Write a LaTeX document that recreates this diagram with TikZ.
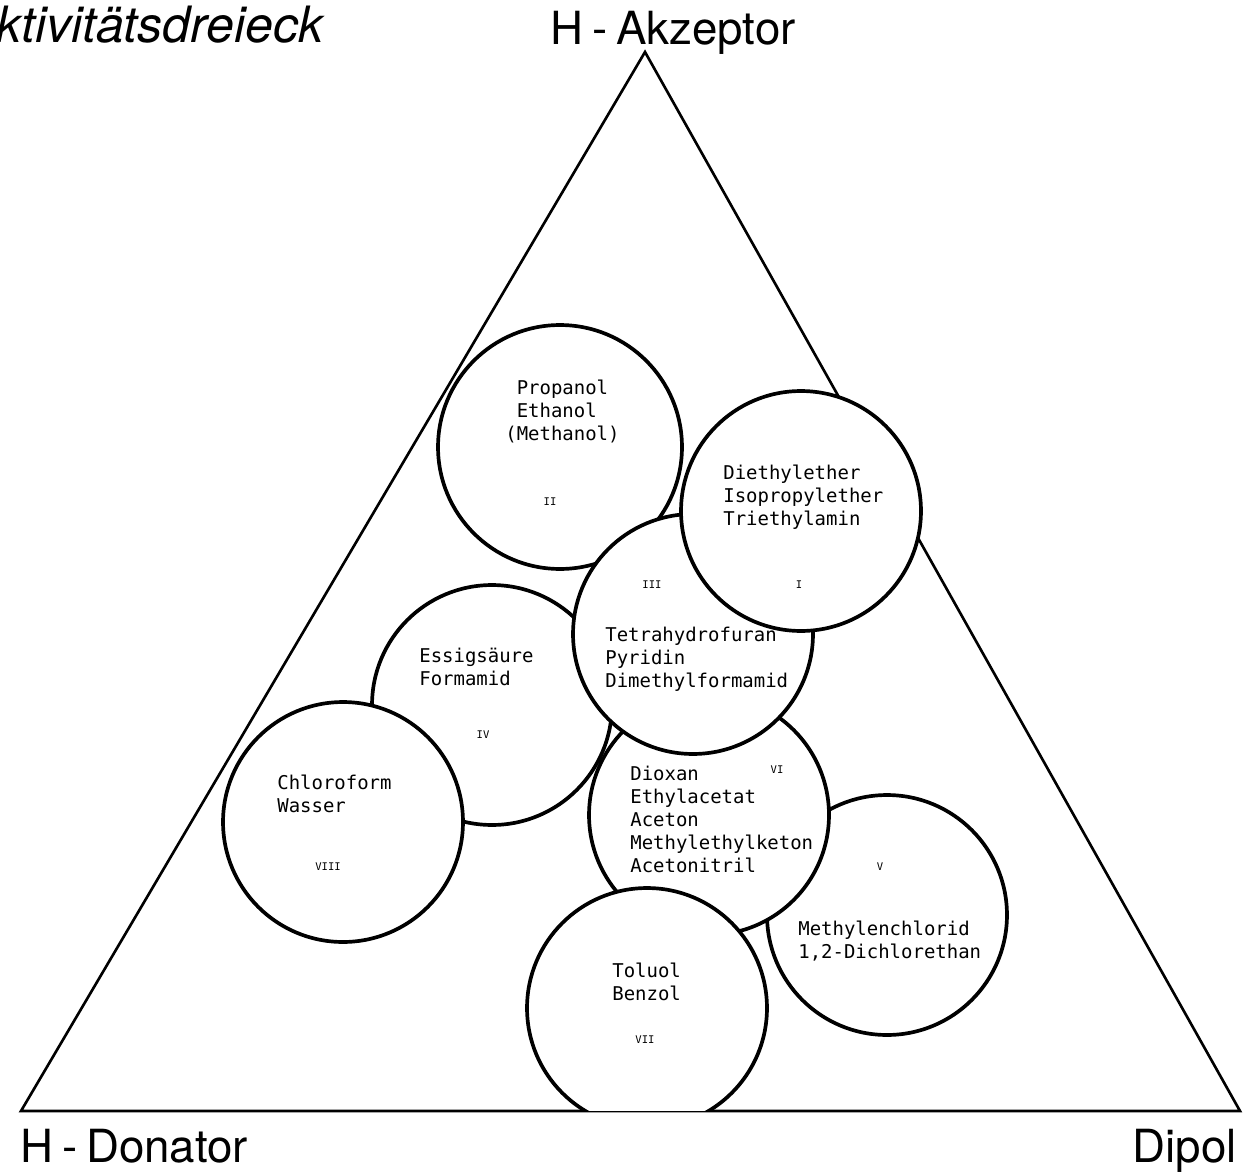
\documentclass[tikz,border=0pt]{standalone}
\usepackage{fontspec}
\setmainfont{TeX Gyre Heros}
\newfontfamily\listfont{DejaVu Sans Mono}
\usetikzlibrary{positioning}

\begin{document}
\begin{tikzpicture}[
    x=0.02cm, y=-0.02cm,
    corner/.style={font=\fontsize{26}{30}\selectfont, inner sep=0pt},
    zone/.style={circle, draw=black, fill=white, line width=2.1pt, minimum size=4.8cm, inner sep=0pt},
    solv/.style={font=\listfont\fontsize{10.8}{13}\selectfont, align=left, anchor=base west, inner sep=0pt},
    grp/.style={font=\listfont\fontsize{6}{7}\selectfont, inner sep=0pt}
]
\useasboundingbox (0,0) rectangle (1247,1176);

% triangle
\coordinate (acc) at (645,52);
\coordinate (don) at (21,1111);
\coordinate (dip) at (1240,1111);
\draw[line width=1.5pt, line join=miter] (acc) -- (dip) -- (don) -- cycle;

\node[corner, anchor=base west, font=\fontsize{28.5}{32}\selectfont\itshape] (title) at (-4,43) {ktivitätsdreieck};
\node[corner, anchor=base west] (acclabel) at (550,45) {H\kern5pt-\kern5pt Akzeptor};
\node[corner, anchor=base west] (donlabel) at (20,1162) {H\kern5pt-\kern5pt Donator};
\node[corner, anchor=base east] (diplabel) at (1237,1162) {Dipol};

\begin{scope}
\clip (-10,-10) rectangle (1260,1110);
% group II
\node[zone, minimum size=4.88cm] (c2) at (560,447) {};
\node[solv] (t2) at (505,440) {\phantom{(}Propanol\\\phantom{(}Ethanol\\(Methanol)};
\node[grp] (n2) at (550,502) {II};
% group IV
\node[zone] (c4) at (492,705) {};
\node[solv] (t4) at (419,685) {Essigsäure\\Formamid};
\node[grp] (n4) at (483,735) {IV};
% group VIII
\node[zone] (c8) at (343,822) {};
\node[solv] (t8) at (277,812) {Chloroform\\Wasser};
\node[grp] (n8) at (328,867) {VIII};
% group V
\node[zone] (c5) at (887,915) {};
\node[solv] (t5) at (798,958) {Methylenchlorid\\1,2-Dichlorethan};
\node[grp] (n5) at (880,867) {V};
% group VI
\node[zone] (c6) at (709,815) {};
\node[solv] (t6) at (630,872) {Dioxan\\Ethylacetat\\Aceton\\Methylethylketon\\Acetonitril};
\node[grp] (n6) at (777,770) {VI};
% group VII
\node[zone] (c7) at (647,1008) {};
\node[solv] (t7) at (612,1000) {Toluol\\Benzol};
\node[grp] (n7) at (645,1040) {VII};
% group III
\node[zone] (c3) at (693,634) {};
\node[solv] (t3) at (605,687) {Tetrahydrofuran\\Pyridin\\Dimethylformamid};
\node[grp] (n3) at (652,585) {III};
% group I
\node[zone] (c1) at (801,511) {};
\node[solv] (t1) at (723,525) {Diethylether\\Isopropylether\\Triethylamin};
\node[grp] (n1) at (799,585) {I};
\end{scope}
\end{tikzpicture}
\end{document}
